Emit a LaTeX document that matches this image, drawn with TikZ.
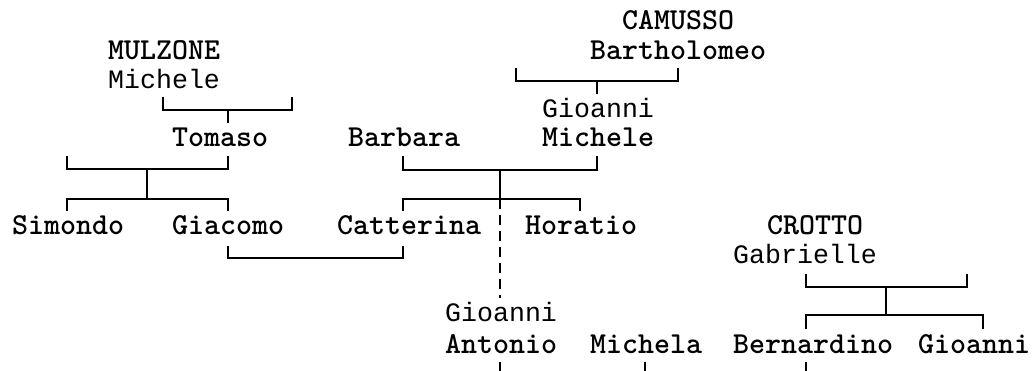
\documentclass[tikz,border=0pt]{standalone}
\usepackage{fontspec}
\newfontfamily\sansmono{Liberation Mono}
\tikzset{
  namebox/.style={font=\ttfamily\bfseries\fontsize{26}{28}\selectfont, inner sep=0pt, outer ysep=1.5mm, anchor=base west},
  namesans/.style={font=\sansmono\fontsize{22.7}{26}\selectfont, inner sep=0pt, outer ysep=1.5mm, anchor=base west},
  link/.style={line width=0.55mm},
  doubtful/.style={link, dash pattern=on 3mm off 1.8mm}
}
\begin{document}
\begin{tikzpicture}[x=0.3mm, y=-0.3mm]
\useasboundingbox (0,0) rectangle (1033,371);
% MULZONE
\node[namebox] (mulzone) at (108,60) {MULZONE};
\node[namesans] (michele) at (108,89) {Michele};
\node[namebox] (tomaso) at (172,147) {Tomaso};
\node[namebox] (simondo) at (12,235) {Simondo};
\node[namebox] (giacomo) at (172,235) {Giacomo};
% CAMUSSO
\node[namebox] (camusso) at (622,30) {CAMUSSO};
\node[namebox] (bartholomeo) at (590,60) {Bartholomeo};
\node[namesans] (gioanni) at (542,118) {Gioanni};
\node[namebox] (gmichele) at (542,147) {Michele};
\node[namebox] (barbara) at (348,147) {Barbara};
\node[namebox] (catterina) at (337,235) {Catterina};
\node[namebox] (horatio) at (525,235) {Horatio};
\node[namesans] (gioanniA) at (445,322) {Gioanni};
\node[namebox] (antonio) at (445,353) {Antonio};
\node[namebox] (michela) at (590,353) {Michela};
% CROTTO
\node[namebox] (crotto) at (767,235) {CROTTO};
\node[namesans] (gabrielle) at (733,264) {Gabrielle};
\node[namebox] (bernardino) at (733,353) {Bernardino};
\node[namebox] (gioanniB) at (918,353) {Gioanni};

\coordinate (m1l) at (163,97);
\coordinate (m1) at (228,110);
\coordinate (m1r) at (292,97);
\coordinate (m2l) at (67,156);
\coordinate (m2) at (147,169);
\coordinate (m2r) at (228,156);
\coordinate (m2c) at (147,199);
\coordinate (m3l) at (228,246);
\coordinate (m3) at (316,258);
\coordinate (m3r) at (403,246);
\coordinate (c1l) at (516,68);
\coordinate (c1) at (597,81);
\coordinate (c1r) at (678,68);
\coordinate (c2l) at (403,156);
\coordinate (c2) at (500,170);
\coordinate (c2r) at (597,156);
\coordinate (c2c) at (500,199);
\coordinate (k1l) at (806,274);
\coordinate (k1) at (886,287);
\coordinate (k1r) at (967,274);
\coordinate (k1c) at (886,315);
\coordinate (s1) at (500,362);
\coordinate (s2) at (645,362);
\coordinate (s3) at (806,362);

\draw[link] (m1l) |- (m1) -| (m1r);
\draw[link] (m1) -- (m1 |- tomaso.north);
\draw[link] (m2l) |- (m2) -| (m2r);
\draw[link] (m2) -- (m2c);
\draw[link] (simondo.north -| m2l) |- (m2c) -| (giacomo.north -| m2r);
\draw[link] (m3l) |- (m3) -| (m3r);
\draw[link] (c1l) |- (c1) -| (c1r);
\draw[link] (c1) -- (c1 |- gioanni.north);
\draw[link] (c2l) |- (c2) -| (c2r);
\draw[link] (c2) -- (c2c);
\draw[link] (catterina.north -| c2l) |- (c2c) -| (horatio.north -| 580,0);
\draw[doubtful] (c2c) -- (c2c |- gioanniA.north);
\draw[link] (k1l) |- (k1) -| (k1r);
\draw[link] (k1) -- (k1c);
\draw[link] (bernardino.north -| k1l) |- (k1c) -| (gioanniB.north -| 983,0);
\draw[link] (s1) -- ++(0,10);
\draw[link] (s2) -- ++(0,10);
\draw[link] (s3) -- ++(0,10);
\end{tikzpicture}
\end{document}
